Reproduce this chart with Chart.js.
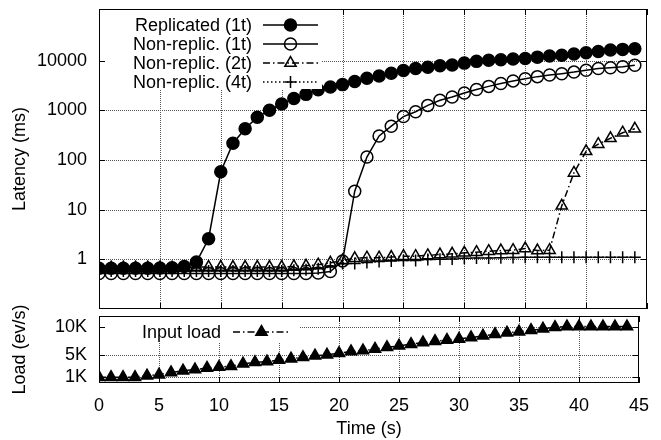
<!DOCTYPE html>
<html>
<head>
<meta charset="utf-8">
<script src="https://cdn.jsdelivr.net/npm/chart.js@4.4.1/dist/chart.umd.min.js"></script>
<style>
html, body { margin: 0; padding: 0; background: #fff; }
#wrap { position: relative; width: 661px; height: 440px; }
#latency { position: absolute; left: 0; top: 0; }
#load { position: absolute; left: 0; top: 276px; }
</style>
</head>
<body>
<div id="wrap">
  <canvas id="latency" width="661" height="317"></canvas>
  <canvas id="load" width="661" height="164"></canvas>
</div>
<script>
const times = [0,1,2,3,4,5,6,7,8,9,10,11,12,13,14,15,16,17,18,19,20,21,22,23,24,25,26,27,28,29,30,31,32,33,34,35,36,37,38,39,40,41,42,43,44]

const replicated = [0.66,0.66,0.66,0.66,0.66,0.67,0.68,0.72,0.88,2.6,58,218,425,730,1010,1350,1730,2100,2600,2950,3300,3800,4450,4900,5600,6350,6950,7400,7900,8200,8950,9700,10200,10500,10800,11100,11800,12500,12900,13700,14500,15400,16500,16900,17400]
const nonReplic1t = [0.52,0.52,0.52,0.52,0.52,0.52,0.52,0.52,0.52,0.52,0.52,0.52,0.52,0.52,0.52,0.52,0.52,0.52,0.53,0.57,0.93,23.6,115,305,480,750,940,1260,1600,1860,2230,2630,3040,3480,3920,4350,4780,5150,5480,5900,6450,6950,7200,7550,8100]
const nonReplic2t = [0.68,0.68,0.68,0.68,0.68,0.68,0.68,0.68,0.7,0.7,0.7,0.7,0.7,0.7,0.7,0.7,0.72,0.74,0.78,0.85,0.95,1.05,1.08,1.08,1.11,1.16,1.16,1.2,1.25,1.29,1.35,1.39,1.46,1.5,1.53,1.65,1.5,1.53,12,55,150,209,274,355,425]
const nonReplic4t = [0.58,0.58,0.58,0.58,0.58,0.58,0.58,0.58,0.58,0.58,0.58,0.58,0.58,0.58,0.58,0.58,0.6,0.62,0.65,0.7,0.82,0.82,0.86,0.9,0.93,0.95,0.95,0.99,1.0,1.02,1.05,1.06,1.07,1.08,1.09,1.1,1.1,1.1,1.1,1.1,1.1,1.1,1.1,1.1,1.1]
const inputLoad = [1050,1050,1050,1050,1300,1500,1900,2200,2400,2700,2850,3000,3450,3700,3850,4100,4350,4600,4900,5050,5350,5650,5800,6100,6400,6650,6950,7250,7500,7700,7900,8150,8450,8750,9000,9200,9450,9700,10000,10100,10100,10100,10100,10100,10100]

const xTickValues = [0,5,10,15,20,25,30,35,40,45]
const latencyTicks = [1,10,100,1000,10000]
const loadTicks = [1000,5000,10000]
const loadTickLabels = ['1K','5K','10K']

const FONT = { family: "'Liberation Sans', Arial, Helvetica, sans-serif", size: 18 }
const FONT_CSS = "18px 'Liberation Sans', Arial, Helvetica, sans-serif"
const DASHDOT = [7, 3, 1.5, 3]
const DOTTED = [1.5, 2.5]
const NO_GRID = { display: false, drawTicks: false }

function toPoints(ys) {
    return times.map((t, i) => ({ x: t, y: ys[i] }))
}

function makeSeries(label, ys, style, filled, dash, radius, order) {
    return {
        label: label,
        data: toPoints(ys),
        borderColor: '#000',
        borderWidth: 1.5,
        borderDash: dash,
        pointStyle: style,
        pointRadius: radius,
        pointBorderWidth: 1.5,
        pointBorderColor: '#000',
        pointBackgroundColor: filled ? '#000' : 'rgba(0,0,0,0)',
        tension: 0,
        fill: false,
        order: order,
        isFilled: filled
    }
}

function drawMarker(ctx, style, x, y, r, filled) {
    ctx.save()
    ctx.setLineDash([])
    ctx.lineWidth = 1.5
    ctx.strokeStyle = '#000'
    ctx.fillStyle = '#000'
    ctx.beginPath()
    if (style === 'circle') {
        ctx.arc(x, y, r, 0, Math.PI * 2)
    } else if (style === 'triangle') {
        let rad = 0
        ctx.moveTo(x + Math.sin(rad) * r, y - Math.cos(rad) * r)
        rad += Math.PI * 2 / 3
        ctx.lineTo(x + Math.sin(rad) * r, y - Math.cos(rad) * r)
        rad += Math.PI * 2 / 3
        ctx.lineTo(x + Math.sin(rad) * r, y - Math.cos(rad) * r)
        ctx.closePath()
    } else if (style === 'cross') {
        ctx.moveTo(x - r, y); ctx.lineTo(x + r, y)
        ctx.moveTo(x, y - r); ctx.lineTo(x, y + r)
    }
    if (filled && style !== 'cross') ctx.fill()
    ctx.stroke()
    ctx.restore()
}

function hline(ctx, x1, x2, y) {
    ctx.beginPath(); ctx.moveTo(x1, y); ctx.lineTo(x2, y); ctx.stroke()
}

// dotted grid as single pixels, the dashed stroke did not show up
function dotsH(ctx, x1, x2, y) {
    for (let x = x1; x <= x2; x += 2) ctx.fillRect(x, y, 1, 1)
}
function dotsV(ctx, x, y1, y2) {
    for (let y = y1; y <= y2; y += 2) ctx.fillRect(x, y, 1, 1)
}

// gnuplot look: dotted grid, solid frame, inward ticks, boxed key
function gnuplotLook(key) {
    return {
        id: 'gnuplotLook',
        beforeDatasetsDraw(chart) {
            const ctx = chart.ctx, a = chart.chartArea, scales = chart.scales
            const L = Math.round(a.left), R = Math.round(a.right) - 1
            const T = Math.round(a.top), B = Math.round(a.bottom) - 1
            ctx.save()
            ctx.fillStyle = '#555'
            xTickValues.forEach(v => {
                const px = Math.round(scales.x.getPixelForValue(v))
                if (px <= L + 1 || px >= R - 1) return
                dotsV(ctx, px, T + 1, B - 1)
            })
            scales.y.ticks.forEach(t => {
                const py = Math.round(scales.y.getPixelForValue(t.value))
                if (py <= T + 1 || py >= B - 1) return
                dotsH(ctx, L + 1, R - 1, py)
            })
            ctx.restore()
        },
        afterDatasetsDraw(chart) {
            const ctx = chart.ctx, a = chart.chartArea, scales = chart.scales
            const L = Math.round(a.left), R = Math.round(a.right) - 1
            const T = Math.round(a.top), B = Math.round(a.bottom) - 1
            ctx.save()
            ctx.fillStyle = '#000'
            xTickValues.forEach(v => {
                const px = Math.round(scales.x.getPixelForValue(v))
                ctx.fillRect(px, T, 1, 6)
                ctx.fillRect(px, B - 5, 1, 6)
            })

            // key box and entries
            ctx.fillStyle = '#fff'
            ctx.fillRect(L + 1, T + 1, key.right - L - 1, key.bottom - T - 1)
            ctx.font = FONT_CSS
            ctx.textAlign = 'right'
            ctx.textBaseline = 'middle'
            chart.data.datasets.forEach((ds, i) => {
                const y = a.top + key.firstRow + i * key.rowStep
                ctx.fillStyle = '#000'
                ctx.fillText(ds.label, key.textRight, y + 1)
                ctx.save()
                ctx.strokeStyle = '#000'
                ctx.lineWidth = 1.5
                ctx.setLineDash(ds.borderDash || [])
                hline(ctx, key.lineStart, key.lineEnd, y)
                ctx.restore()
                drawMarker(ctx, ds.pointStyle, (key.lineStart + key.lineEnd) / 2, y, ds.pointRadius, ds.isFilled)
            })

            ctx.fillStyle = '#000'
            ctx.fillRect(L, T, R - L + 1, 1)
            ctx.fillRect(L, B, R - L + 1, 1)
            ctx.fillRect(L, T, 1, B - T + 1)
            ctx.fillRect(R, T, 1, B - T + 1)
            scales.y.ticks.forEach(t => {
                const py = Math.round(scales.y.getPixelForValue(t.value))
                ctx.fillRect(L, py, 6, 1)
                ctx.fillRect(R - 5, py, 6, 1)
            })
            ctx.restore()
        }
    }
}

const yWidth = 94
function fitY(s) {
    s.width = yWidth
    s.paddingTop = 0
    s.paddingBottom = 0
}

const latencyChart = new Chart(document.getElementById('latency'), {
    type: 'line',
    data: {
        datasets: [
            makeSeries('Replicated (1t)', replicated, 'circle', true, [], 6, 4),
            makeSeries('Non-replic. (1t)', nonReplic1t, 'circle', false, [], 6, 3),
            makeSeries('Non-replic. (2t)', nonReplic2t, 'triangle', false, DASHDOT, 6.5, 2),
            makeSeries('Non-replic. (4t)', nonReplic4t, 'cross', false, DOTTED, 6, 1)
        ]
    },
    options: {
        responsive: false,
        animation: false,
        layout: { padding: { left: 5, right: 14, top: 9, bottom: 1 } },
        plugins: { legend: { display: false }, tooltip: { enabled: false } },
        scales: {
            x: {
                type: 'linear', min: 0, max: 45,
                afterFit: s => { s.height = 0; s.paddingLeft = 0; s.paddingRight = 0 },
                afterBuildTicks: s => { s.ticks = xTickValues.map(v => ({ value: v })) },
                grid: NO_GRID,
                border: { display: false },
                ticks: { display: false }
            },
            y: {
                type: 'logarithmic',
                min: 0.1,
                max: 110000,
                afterFit: fitY,
                afterBuildTicks: s => { s.ticks = latencyTicks.map(v => ({ value: v })) },
                grid: NO_GRID,
                border: { display: false },
                ticks: { padding: 12, color: '#000', font: FONT, callback: v => String(v) },
                title: { display: true, text: 'Latency (ms)', color: '#000', font: FONT, padding: { top: 4, bottom: 0 } }
            }
        }
    },
    plugins: [gnuplotLook({ right: 322, bottom: 89, textRight: 252, lineStart: 263, lineEnd: 318, firstRow: 16, rowStep: 19 })]
})

const loadChart = new Chart(document.getElementById('load'), {
    type: 'line',
    data: {
        datasets: [
            makeSeries('Input load', inputLoad, 'triangle', true, DASHDOT, 6.5, 1)
        ]
    },
    options: {
        responsive: false,
        animation: false,
        layout: { padding: { left: 5, right: 14, top: 40, bottom: 0 } },
        plugins: { legend: { display: false }, tooltip: { enabled: false } },
        scales: {
            x: {
                type: 'linear',
                min: 0,
                max: 45,
                afterFit: s => { s.height = 57 },
                afterBuildTicks: s => { s.ticks = xTickValues.map(v => ({ value: v })) },
                grid: NO_GRID,
                border: { display: false },
                ticks: { padding: 12, color: '#000', font: FONT, maxRotation: 0, autoSkip: false },
                title: { display: true, text: 'Time (s)', color: '#000', font: FONT, padding: { top: 0, bottom: 0 } }
            },
            y: {
                type: 'linear',
                min: 0,
                max: 12000,
                afterFit: fitY,
                afterBuildTicks: s => { s.ticks = loadTicks.map(v => ({ value: v })) },
                grid: NO_GRID,
                border: { display: false },
                ticks: { padding: 12, color: '#000', font: FONT, callback: v => loadTickLabels[loadTicks.indexOf(v)] },
                title: { display: true, text: 'Load (ev/s)', color: '#000', font: FONT, padding: { top: 4, bottom: 0 } }
            }
        }
    },
    plugins: [gnuplotLook({ right: 300, bottom: 67, textRight: 221, lineStart: 233, lineEnd: 290, firstRow: 16, rowStep: 19 })]
})
</script>
</body>
</html>
